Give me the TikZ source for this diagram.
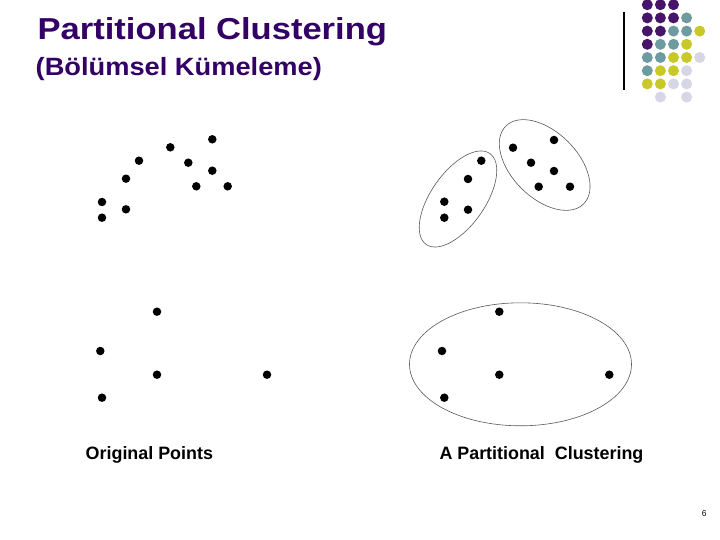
\documentclass[tikz,border=0pt]{standalone}
\usepackage{fontspec}
\setmainfont{Liberation Sans}
\newfontfamily\headfont[FakeStretch=1.14]{Liberation Sans}
\newfontfamily\subfont[FakeStretch=1.09]{Liberation Sans}
\usetikzlibrary{shapes.geometric}

\begin{document}
\begin{tikzpicture}[x=1pt, y=-1pt]

        \useasboundingbox[fill=white] (0, 0) rectangle (720, 540);
        \definecolor{titlepurple}{RGB}{51, 0, 102}
        \definecolor{gridpurple}{RGB}{70, 20, 105}
        \definecolor{gridteal}{RGB}{110, 155, 160}
        \definecolor{gridyellow}{RGB}{200, 200, 40}
        \definecolor{gridlavender}{RGB}{214, 214, 230}
        \tikzset{
            headline/.style={anchor=base west, inner sep=0pt, text=titlepurple, font=\headfont\bfseries\fontsize{30.3}{33}\selectfont},
            subline/.style={anchor=base west, inner sep=0pt, text=titlepurple, font=\subfont\bfseries\fontsize{25}{28}\selectfont},
            caption/.style={anchor=base west, inner sep=0pt, text=black, font=\bfseries\fontsize{17.9}{20}\selectfont},
            datapt/.style={circle, fill=black, inner sep=0pt, minimum size=8.5pt},
            swatch/.style={circle, fill=#1, inner sep=0pt, minimum size=11pt},
            cluster/.style={ellipse, draw=black!65, line width=0.6pt, inner sep=0pt}
        }


        \node[headline] (title) at (37.5, 40) {Partitional Clustering};
        \node[subline] (subtitle) at (35.5, 76) {(Bölümsel Kümeleme)};


        \node[swatch=gridpurple] (g00) at (647.3, 4.7) {}; \node[swatch=gridpurple] (g01) at (660.4, 4.7) {}; \node[swatch=gridpurple] (g02) at (673.5, 4.7) {};
        \node[swatch=gridpurple] (g10) at (647.3, 17.9) {}; \node[swatch=gridpurple] (g11) at (660.4, 17.9) {}; \node[swatch=gridpurple] (g12) at (673.5, 17.9) {}; \node[swatch=gridteal] (g13) at (686.6, 17.9) {};
        \node[swatch=gridpurple] (g20) at (647.3, 31.1) {}; \node[swatch=gridpurple] (g21) at (660.4, 31.1) {}; \node[swatch=gridteal] (g22) at (673.5, 31.1) {}; \node[swatch=gridteal] (g23) at (686.6, 31.1) {}; \node[swatch=gridyellow] (g24) at (699.7, 31.1) {};
        \node[swatch=gridpurple] (g30) at (647.3, 44.3) {}; \node[swatch=gridteal] (g31) at (660.4, 44.3) {}; \node[swatch=gridteal] (g32) at (673.5, 44.3) {}; \node[swatch=gridyellow] (g33) at (686.6, 44.3) {};
        \node[swatch=gridteal] (g40) at (647.3, 57.5) {}; \node[swatch=gridteal] (g41) at (660.4, 57.5) {}; \node[swatch=gridyellow] (g42) at (673.5, 57.5) {}; \node[swatch=gridyellow] (g43) at (686.6, 57.5) {}; \node[swatch=gridlavender] (g44) at (699.7, 57.5) {};
        \node[swatch=gridteal] (g50) at (647.3, 70.7) {}; \node[swatch=gridyellow] (g51) at (660.4, 70.7) {}; \node[swatch=gridyellow] (g52) at (673.5, 70.7) {}; \node[swatch=gridlavender] (g53) at (686.6, 70.7) {};
        \node[swatch=gridyellow] (g60) at (647.3, 83.9) {}; \node[swatch=gridyellow] (g61) at (660.4, 83.9) {}; \node[swatch=gridlavender] (g62) at (673.5, 83.9) {}; \node[swatch=gridlavender] (g63) at (686.6, 83.9) {};
        \node[swatch=gridlavender] (g71) at (660.4, 97.1) {}; \node[swatch=gridlavender] (g73) at (686.6, 97.1) {};

        \coordinate (rule_top) at (624, 12);
        \coordinate (rule_bot) at (624, 90);
        \draw[line width=1.2pt] (rule_top) -- (rule_bot);


        % original points
        \node[datapt] (p1) at (212.3, 139.3) {};
        \node[datapt] (p2) at (170.3, 147.3) {};
        \node[datapt] (p3) at (139.0, 160.7) {};
        \node[datapt] (p4) at (188.3, 162.7) {};
        \node[datapt] (p5) at (212.3, 170.7) {};
        \node[datapt] (p6) at (126.0, 178.7) {};
        \node[datapt] (p7) at (196.3, 186.3) {};
        \node[datapt] (p8) at (227.7, 186.3) {};
        \node[datapt] (p9) at (102.0, 202.0) {};
        \node[datapt] (p10) at (126.0, 209.3) {};
        \node[datapt] (p11) at (102.0, 217.7) {};

        \node[datapt] (q1) at (157.0, 311.7) {};
        \node[datapt] (q2) at (100.3, 351.0) {};
        \node[datapt] (q3) at (157.0, 374.7) {};
        \node[datapt] (q4) at (267.0, 374.7) {};
        \node[datapt] (q5) at (102.0, 397.7) {};


        % partitional clustering
        \node[datapt] (r1) at (554.0, 140.0) {};
        \node[datapt] (r2) at (513.0, 147.7) {};
        \node[datapt] (r3) at (481.3, 160.7) {};
        \node[datapt] (r4) at (531.0, 162.7) {};
        \node[datapt] (r5) at (554.0, 171.0) {};
        \node[datapt] (r6) at (468.0, 179.0) {};
        \node[datapt] (r7) at (538.7, 186.7) {};
        \node[datapt] (r8) at (570.0, 186.7) {};
        \node[datapt] (r9) at (444.3, 201.7) {};
        \node[datapt] (r10) at (468.0, 209.7) {};
        \node[datapt] (r11) at (444.3, 217.7) {};

        \node[datapt] (s1) at (499.3, 311.7) {};
        \node[datapt] (s2) at (442.0, 351.0) {};
        \node[datapt] (s3) at (499.3, 374.7) {};
        \node[datapt] (s4) at (609.3, 374.7) {};
        \node[datapt] (s5) at (444.3, 397.7) {};

        \node[cluster, minimum width=111pt, minimum height=54pt, rotate=55] (clus_a) at (458, 199) {};
        \node[cluster, minimum width=110pt, minimum height=66pt, rotate=-45] (clus_b) at (544.7, 165) {};
        \node[cluster, minimum width=222pt, minimum height=123pt] (clus_c) at (520.5, 364.3) {};


        \node[caption] (orig_label) at (85.5, 459.3) {Original Points};
        \node[caption] (part_label) at (439.3, 459.3) {A Partitional~~Clustering};

        \node[font=\fontsize{8.5}{10}\selectfont, inner sep=0pt] (page_no) at (704.3, 514) {6};

    \end{tikzpicture}
\end{document}
